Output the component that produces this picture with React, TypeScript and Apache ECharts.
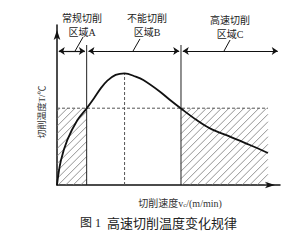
import React, { useEffect, useRef } from "react";
import * as echarts from "echarts";

// cutting speed (relative units) and cutting temperature (relative units)
const speed = [0, 1.7, 4.6, 9.1, 13.3, 16.6, 19.6, 22.6, 26.3, 30.3, 35.3, 38.7, 46.2, 50.7, 55.6, 62.6, 68.6, 77.6, 86.5, 94.6];
const temperature = [0, 15, 28, 40.5, 47.9, 54.2, 60.4, 65.2, 68.8, 69.8, 67.7, 65.6, 58.3, 53.1, 47.8, 40.6, 35.4, 30.2, 25, 20];

const boundaryAB = 13.3;
const boundaryBC = 55.6;
const peakSpeed = 30.3;
const peakTemp = 69.8;
const threshold = 48;
const curveEnd = 94.6;
const regionLineY = 83.75;
const regionNames = ["常规切削\n区域A", "不能切削\n区域B", "高速切削\n区域C"];

const CJK = "'Liberation Serif', 'Noto Sans CJK SC', serif";

export default function App() {
  const ref = useRef<HTMLDivElement>(null);
  useEffect(() => {
    if (!ref.current) return;
    const chart = echarts.init(ref.current, null, { renderer: "svg" });
    const curve = speed.map((s, i) => [s, temperature[i]]);
    const hatch = [
      [0, boundaryAB, 0, threshold],
      [boundaryBC, curveEnd, 0, threshold],
    ];
    const seg = (a: number[], b: number[]) => [{ coord: a }, { coord: b }];
    const option: any = {
      animation: false,
      backgroundColor: "#fff",
      grid: { left: 57, top: 25, width: 223, height: 160 },
      xAxis: {
        type: "value",
        min: 0,
        max: 100,
        axisLine: {
          show: true,
          onZero: false,
          lineStyle: { color: "#111", width: 1.5 },
          symbol: ["none", "arrow"],
          symbolSize: [5, 10],
          symbolOffset: [0, -5],
        },
        axisTick: { show: false },
        axisLabel: { show: false },
        splitLine: { show: false },
      },
      yAxis: {
        type: "value",
        min: 0,
        max: 100,
        axisLine: {
          show: true,
          onZero: false,
          lineStyle: { color: "#111", width: 1.5 },
          symbol: ["none", "arrow"],
          symbolSize: [5, 10],
          symbolOffset: [0, -5],
        },
        axisTick: { show: false },
        axisLabel: { show: false },
        splitLine: { show: false },
      },
      series: [
        {
          type: "custom",
          silent: true,
          data: hatch,
          encode: { x: [0, 1], y: [2, 3] },
          renderItem: (params: any, api: any) => {
            const p1 = api.coord([api.value(0), api.value(3)]);
            const p2 = api.coord([api.value(1), api.value(2)]);
            const left = p1[0], top = p1[1], right = p2[0], bottom = p2[1];
            const step = 7.5;
            const children: any[] = [];
            for (let k = left + top + 3; k < right + bottom; k += step) {
              const xa = Math.max(left, k - bottom);
              const xb = Math.min(right, k - top);
              if (xb > xa) {
                children.push({
                  type: "line",
                  shape: { x1: xa, y1: k - xa, x2: xb, y2: k - xb },
                  style: { stroke: "#777", lineWidth: 0.8 },
                });
              }
            }
            return { type: "group", children };
          },
        },
        {
          type: "line",
          data: [[0, threshold], [curveEnd, threshold]],
          symbol: "none",
          lineStyle: { color: "#555", width: 1, type: [3, 2] },
        },
        {
          type: "line",
          data: [[peakSpeed, 0], [peakSpeed, peakTemp]],
          symbol: "none",
          lineStyle: { color: "#555", width: 1, type: [3, 2] },
        },
        {
          type: "line",
          data: [[boundaryAB, 0], [boundaryAB, 87.5]],
          symbol: "none",
          lineStyle: { color: "#222", width: 1 },
        },
        {
          type: "line",
          data: [[boundaryBC, 0], [boundaryBC, 87.5]],
          symbol: "none",
          lineStyle: { color: "#222", width: 1 },
        },
        {
          type: "line",
          data: curve,
          symbol: "none",
          smooth: 0.35,
          lineStyle: { color: "#111", width: 1.8 },
        },
        {
          type: "line",
          data: [],
          markLine: {
            silent: true,
            symbol: ["arrow", "arrow"],
            symbolSize: 6,
            label: { show: false },
            lineStyle: { color: "#111", width: 1.2, type: "solid" },
            data: [
              seg([0.8, regionLineY], [boundaryAB - 0.8, regionLineY]),
              seg([boundaryAB + 0.8, regionLineY], [boundaryBC - 0.8, regionLineY]),
              seg([boundaryBC + 0.8, regionLineY], [99, regionLineY]),
            ],
          },
        },
        {
          type: "line",
          data: [],
          markLine: {
            silent: true,
            symbol: ["none", "none"],
            label: { show: false },
            lineStyle: { color: "#111", width: 1, type: "solid" },
            data: [
              seg([8.1, regionLineY], [11.7, 92.5]),
              seg([34.1, regionLineY], [37.2, 91.3]),
              seg([74.9, regionLineY], [77.6, 90.6]),
            ],
          },
        },
      ],
      graphic: [
        {
          type: "text",
          x: 82,
          y: 25,
          style: {
            text: regionNames[0],
            font: `10px ${CJK}`,
            fill: "#222",
            align: "center",
            verticalAlign: "middle",
            lineHeight: 14,
          },
        },
        {
          type: "text",
          x: 147,
          y: 25,
          style: {
            text: regionNames[1],
            font: `10px ${CJK}`,
            fill: "#222",
            align: "center",
            verticalAlign: "middle",
            lineHeight: 14,
          },
        },
        {
          type: "text",
          x: 230,
          y: 27,
          style: {
            text: regionNames[2],
            font: `10px ${CJK}`,
            fill: "#222",
            align: "center",
            verticalAlign: "middle",
            lineHeight: 14,
          },
        },
        {
          type: "text",
          x: 42,
          y: 112,
          rotation: Math.PI / 2,
          style: {
            text: "切削温度T/℃",
            font: `9px ${CJK}`,
            fill: "#333",
            align: "center",
            verticalAlign: "middle",
          },
        },
        {
          type: "text",
          x: 180,
          y: 203,
          style: {
            text: "{a|切削速度v}{s|c}{a|/(m/min)}",
            align: "center",
            verticalAlign: "middle",
            rich: {
              a: { font: `10px ${CJK}`, fill: "#333" },
              s: { font: `7px ${CJK}`, fill: "#333", verticalAlign: "bottom", padding: [3, 0, 0, 0] },
            },
          },
        },
        {
          type: "text",
          x: 80,
          y: 223,
          style: {
            text: "图 1",
            font: `12px ${CJK}`,
            fill: "#222",
            align: "left",
            verticalAlign: "middle",
          },
        },
        {
          type: "text",
          x: 107,
          y: 223,
          style: {
            text: "高速切削温度变化规律",
            font: `13px ${CJK}`,
            fill: "#222",
            align: "left",
            verticalAlign: "middle",
          },
        },
      ],
    };
    chart.setOption(option);
    return () => chart.dispose();
  }, []);
  return (
    <div
      ref={ref}
      style={{ position: "fixed", left: 0, top: 0, width: 302, height: 240, background: "#fff" }}
    />
  );
}
